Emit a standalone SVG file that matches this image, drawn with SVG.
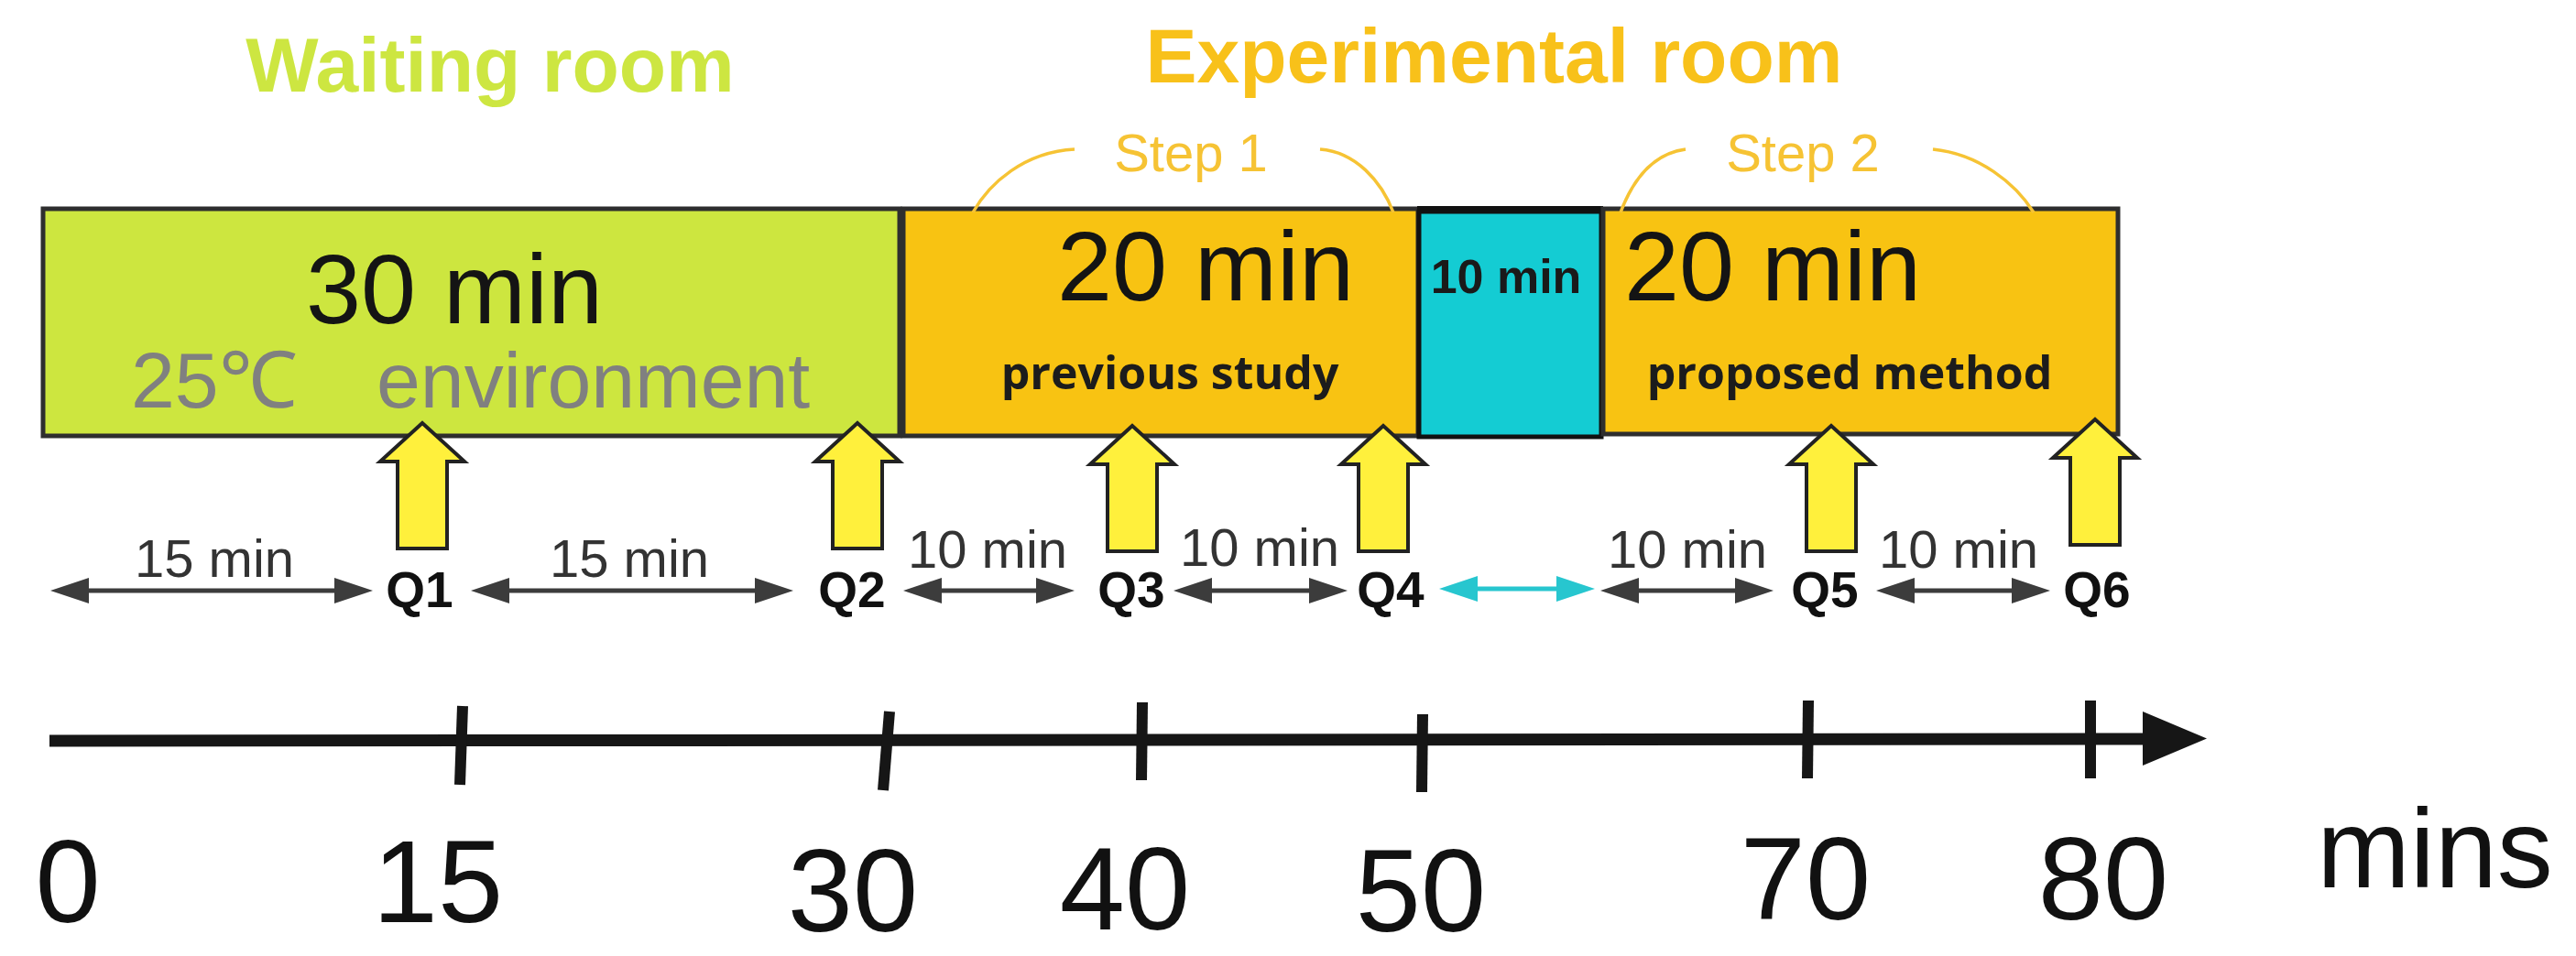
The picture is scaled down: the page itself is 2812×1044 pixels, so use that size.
<svg xmlns="http://www.w3.org/2000/svg" xmlns:xlink="http://www.w3.org/1999/xlink" width="2812" height="1044" viewBox="0 0 2812 1044">
  <style>
    .sans { font-family: "Liberation Sans", Arial, sans-serif; }
    .open { font-family: "Open Sans", "Noto Sans", sans-serif; font-weight: 700; }
    .title { font-size: 84px; font-weight: 700; text-anchor: middle; }
    .big { font-size: 108px; fill: #141414; text-anchor: middle; }
    .sub { font-size: 50px; fill: #1c1c1c; text-anchor: middle; }
    .step { font-size: 58px; fill: #F6C334; text-anchor: middle; }
    .bracket { fill: none; stroke: #F6C334; stroke-width: 3.5; }
    .box { stroke: #2e2e2e; stroke-width: 5; }
    .qlabel { font-size: 55px; font-weight: 700; fill: #111; text-anchor: middle; }
    .dur { font-size: 58px; fill: #333; text-anchor: middle; }
    .dbl { stroke: #3c3c3c; stroke-width: 5; marker-start: url(#headGray); marker-end: url(#headGray); }
    .dblc { stroke: #27C6CF; stroke-width: 5; marker-start: url(#headCyan); marker-end: url(#headCyan); }
    .tick { stroke: #161616; stroke-width: 12; }
    .axislbl { font-size: 128px; fill: #111; text-anchor: middle; }
    .qarrow { fill: #FFF03C; stroke: #222; stroke-width: 4; stroke-linejoin: miter; }
  </style>
  <defs>
    <marker id="headGray" markerUnits="userSpaceOnUse" markerWidth="44" markerHeight="30" refX="1" refY="14" orient="auto-start-reverse" viewBox="0 0 44 28">
      <path d="M0,0 L42,14 L0,28 Z" fill="#3c3c3c"/>
    </marker>
    <marker id="headCyan" markerUnits="userSpaceOnUse" markerWidth="44" markerHeight="30" refX="1" refY="14" orient="auto-start-reverse" viewBox="0 0 44 28">
      <path d="M0,0 L42,14 L0,28 Z" fill="#27C6CF"/>
    </marker>
    <marker id="axisHead" markerUnits="userSpaceOnUse" markerWidth="72" markerHeight="60" refX="1" refY="30" orient="auto" viewBox="0 0 72 60">
      <path d="M0,0 L70,29.5 L0,59 Z" fill="#161616"/>
    </marker>
    <path id="blockArrow" d="M0,0 L46,42 L27,42 L27,137 L-27,137 L-27,42 L-46,42 Z"/>
  </defs>

  <rect width="2812" height="1044" fill="#ffffff"/>

  <g id="title-waiting">
    <text class="sans title" x="535" y="100" fill="#CDE641">Waiting room</text>
  </g>
  <g id="title-experimental">
    <text class="sans title" x="1631" y="90" fill="#F8C11A">Experimental room</text>
  </g>

  <g id="node-waiting">
    <rect class="box" x="47" y="228" width="935" height="248" fill="#CDE63F"/>
    <text class="sans big" x="496" y="353">30 min</text>
    <text class="sans" font-size="86" fill="#808080"><tspan x="143" y="445">25℃</tspan><tspan x="411" y="445">environment</tspan></text>
  </g>

  <g id="node-step1">
    <rect class="box" x="986" y="228" width="562" height="248" fill="#F8C312"/>
    <text class="sans big" x="1316" y="328">20 min</text>
    <text class="open sub" x="1277" y="425">previous study</text>
  </g>

  <g id="node-rest">
    <rect x="1549" y="231" width="199" height="246" fill="#14CCD3" stroke="#111" stroke-width="5"/>
    <line x1="1547" y1="229" x2="1750" y2="229" stroke="#111" stroke-width="8"/>
    <text class="sans" x="1644" y="320" font-size="52" font-weight="700" fill="#1a1a1a" text-anchor="middle">10 min</text>
  </g>

  <g id="node-step2">
    <rect class="box" x="1750" y="228" width="562" height="246" fill="#F8C312"/>
    <text class="sans big" x="1935" y="328">20 min</text>
    <text class="open sub" x="2019" y="425">proposed method</text>
  </g>

  <g id="label-step1">
    <path class="bracket" d="M1173,163 C1118,166 1080,200 1062,232"/>
    <path class="bracket" d="M1441,163 C1480,166 1508,198 1521,232"/>
    <text class="sans step" x="1300" y="187">Step 1</text>
  </g>
  <g id="label-step2">
    <path class="bracket" d="M1840,163 C1802,168 1781,200 1769,232"/>
    <path class="bracket" d="M2110,163 C2160,168 2200,200 2220,232"/>
    <text class="sans step" x="1968" y="187">Step 2</text>
  </g>

  <g id="q1"><use xlink:href="#blockArrow" href="#blockArrow" class="qarrow" x="461" y="462"/><text class="sans qlabel" x="458" y="663">Q1</text></g>
  <g id="q2"><use xlink:href="#blockArrow" href="#blockArrow" class="qarrow" x="936" y="462"/><text class="sans qlabel" x="930" y="663">Q2</text></g>
  <g id="q3"><use xlink:href="#blockArrow" href="#blockArrow" class="qarrow" x="1236" y="465"/><text class="sans qlabel" x="1235" y="663">Q3</text></g>
  <g id="q4"><use xlink:href="#blockArrow" href="#blockArrow" class="qarrow" x="1510" y="465"/><text class="sans qlabel" x="1518" y="663">Q4</text></g>
  <g id="q5"><use xlink:href="#blockArrow" href="#blockArrow" class="qarrow" x="1999" y="465"/><text class="sans qlabel" x="1992" y="663">Q5</text></g>
  <g id="q6"><use xlink:href="#blockArrow" href="#blockArrow" class="qarrow" x="2287" y="458"/><text class="sans qlabel" x="2289" y="663">Q6</text></g>

  <g id="connectors">
    <line class="dbl" x1="96" y1="645" x2="366" y2="645"/>
    <line class="dbl" x1="555" y1="645" x2="825" y2="645"/>
    <line class="dbl" x1="1027" y1="645" x2="1132" y2="645"/>
    <line class="dbl" x1="1322" y1="645" x2="1430" y2="645"/>
    <line class="dblc" x1="1612" y1="643" x2="1700" y2="643"/>
    <line class="dbl" x1="1788" y1="645" x2="1895" y2="645"/>
    <line class="dbl" x1="2089" y1="645" x2="2197" y2="645"/>
  </g>

  <g id="durations">
    <text class="sans dur" x="234" y="630">15 min</text>
    <text class="sans dur" x="687" y="630">15 min</text>
    <text class="sans dur" x="1078" y="620">10 min</text>
    <text class="sans dur" x="1375" y="618">10 min</text>
    <text class="sans dur" x="1842" y="620">10 min</text>
    <text class="sans dur" x="2138" y="620">10 min</text>
  </g>

  <g id="axis">
    <line x1="54" y1="809" x2="2340" y2="807" stroke="#161616" stroke-width="13" marker-end="url(#axisHead)"/>
    <line class="tick" x1="505" y1="771" x2="502" y2="857"/>
    <line class="tick" x1="971" y1="777" x2="964" y2="863"/>
    <line class="tick" x1="1247" y1="767" x2="1246" y2="852"/>
    <line class="tick" x1="1553" y1="780" x2="1552" y2="865"/>
    <line class="tick" x1="1974" y1="765" x2="1973" y2="850"/>
    <line class="tick" x1="2282" y1="765" x2="2282" y2="850"/>
    <text class="sans axislbl" x="74" y="1007">0</text>
    <text class="sans axislbl" x="478" y="1007">15</text>
    <text class="sans axislbl" x="931" y="1017">30</text>
    <text class="sans axislbl" x="1228" y="1015">40</text>
    <text class="sans axislbl" x="1551" y="1017">50</text>
    <text class="sans axislbl" x="1971" y="1004">70</text>
    <text class="sans axislbl" x="2296" y="1004">80</text>
    <text class="sans" x="2658" y="969" font-size="122" fill="#111" text-anchor="middle">mins</text>
  </g>
</svg>
